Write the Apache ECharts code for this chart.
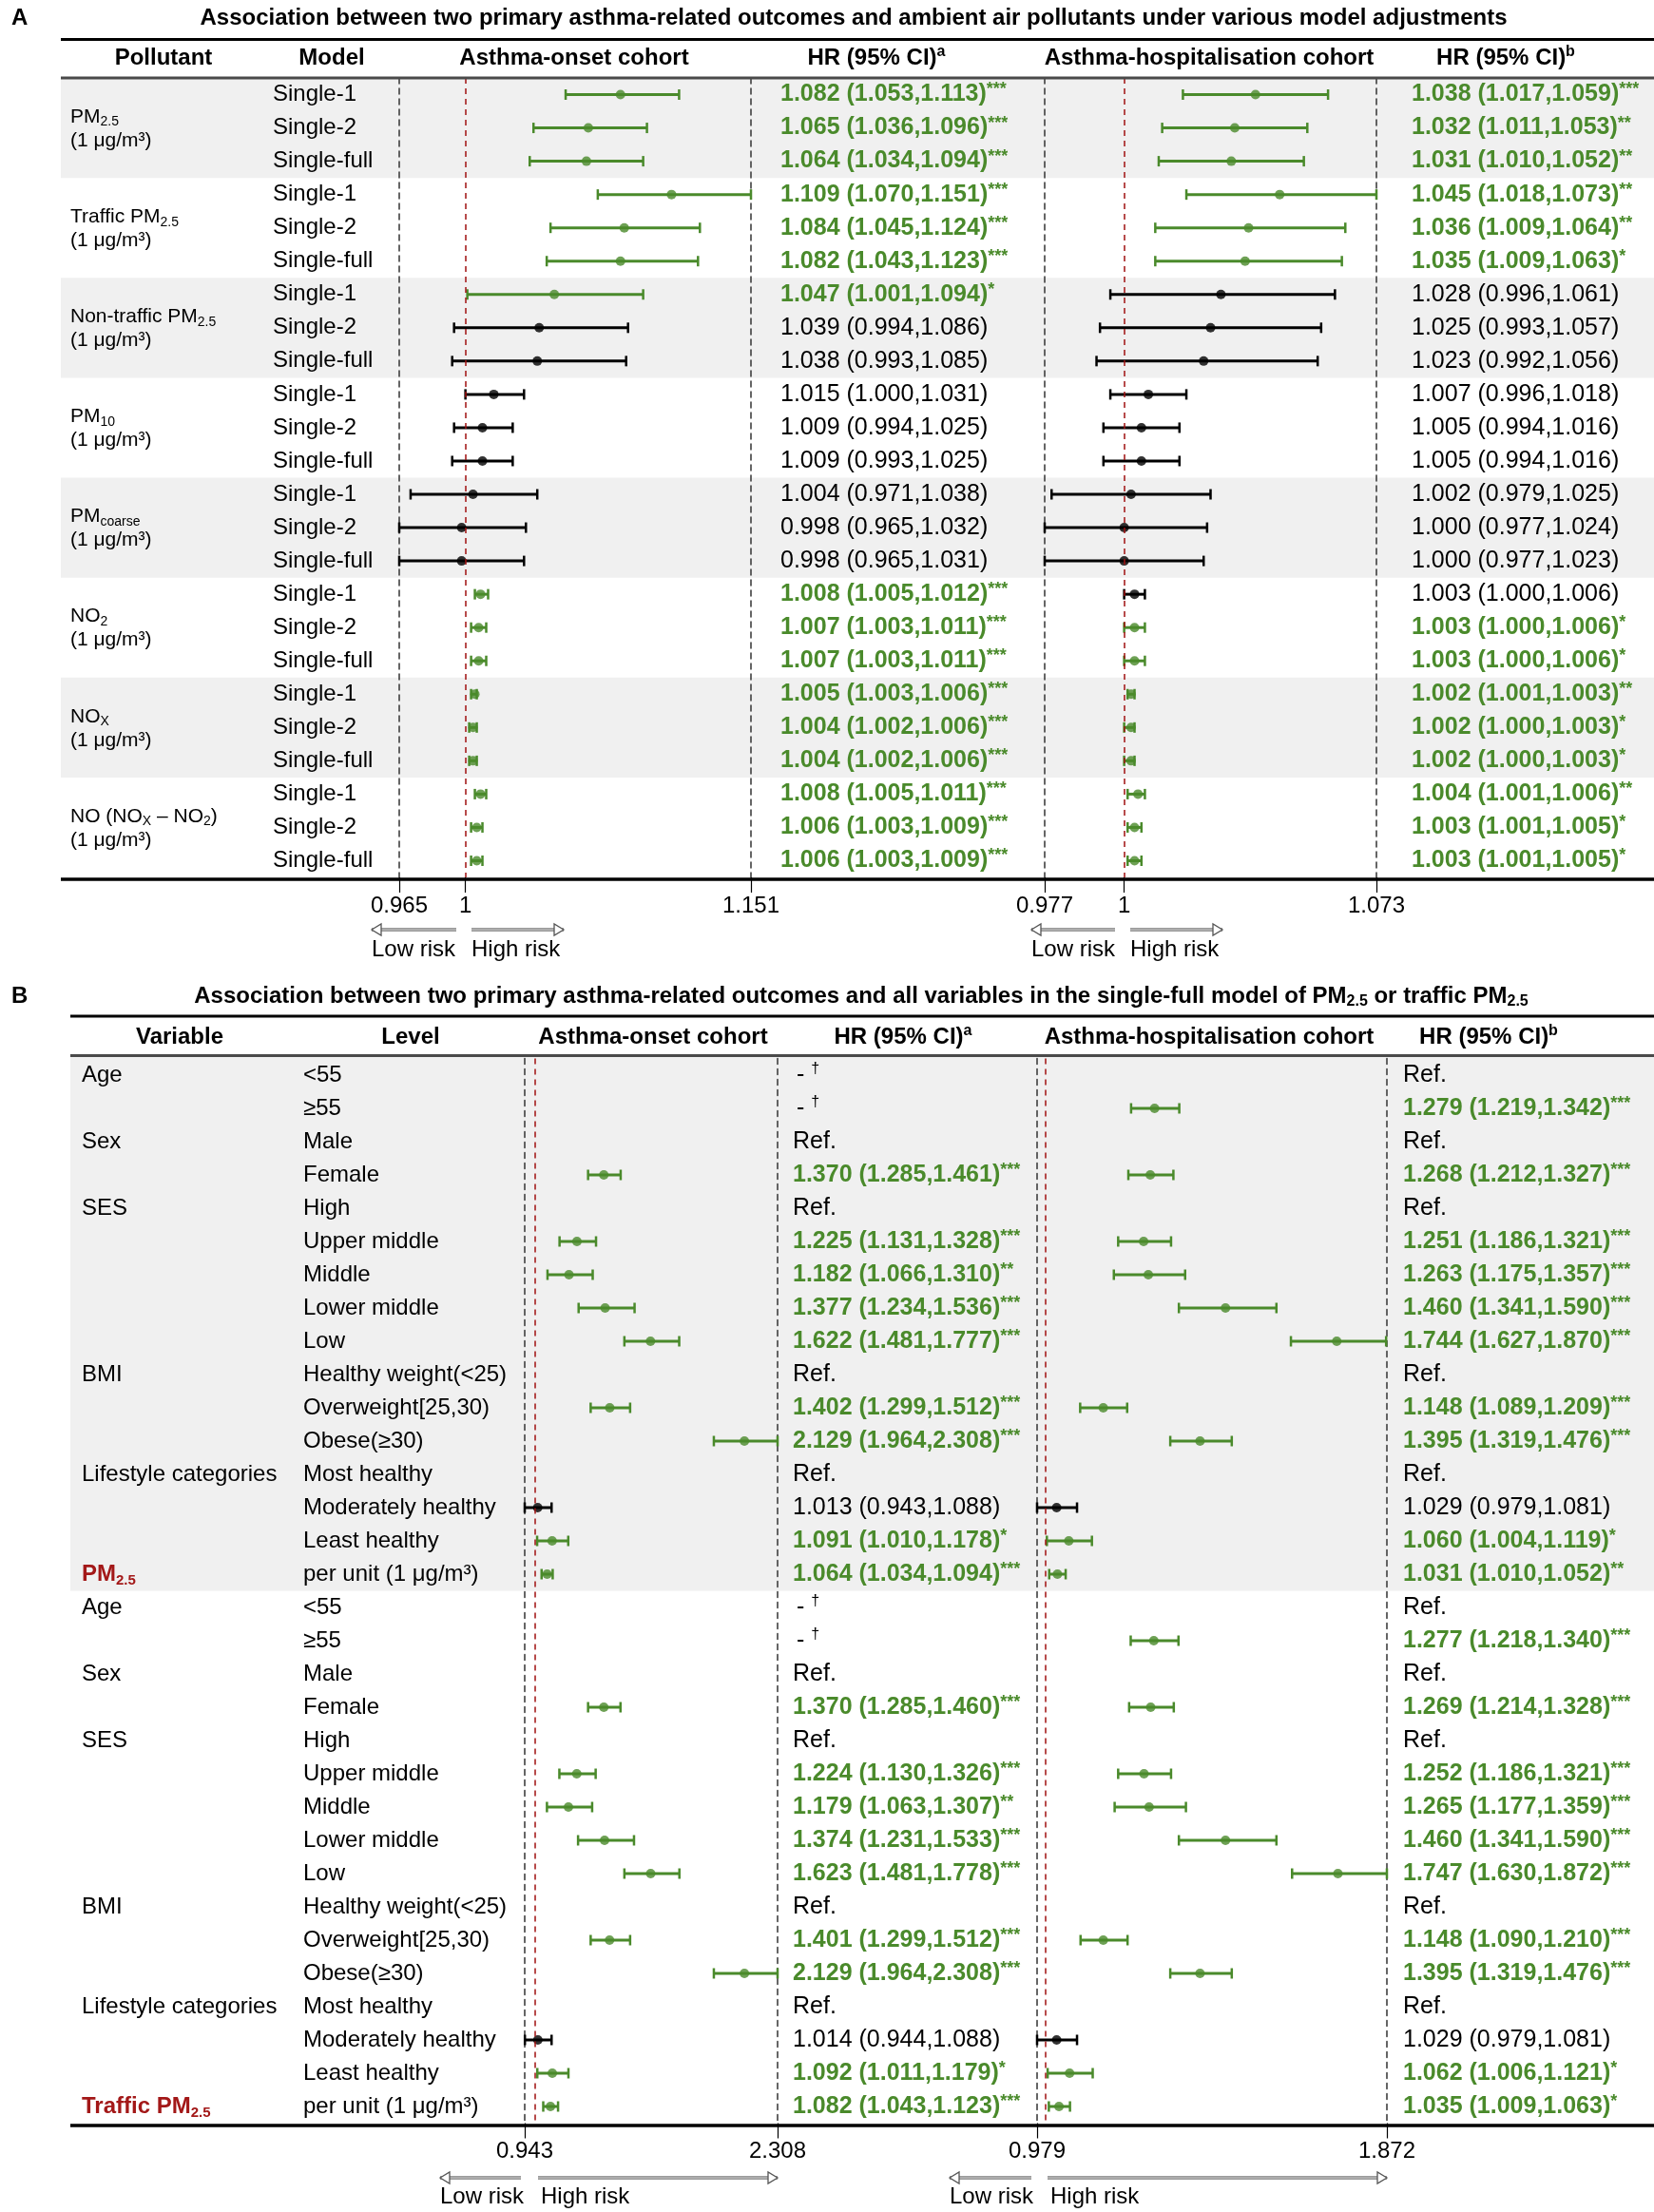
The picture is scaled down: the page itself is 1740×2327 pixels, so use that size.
<!DOCTYPE html>
<html><head><meta charset="utf-8">
<script src="https://cdn.jsdelivr.net/npm/echarts@6/dist/echarts.min.js"></script>
<style>html,body{margin:0;padding:0;background:#fff}#c{width:1740px;height:2327px}</style>
</head><body><div id="c"></div>
<script>
// ================= DATA =================
// Panel A
const pollutants = ['PM2.5', 'Traffic PM2.5', 'Non-traffic PM2.5', 'PM10', 'PMcoarse', 'NO2', 'NOX', 'NO (NOX – NO2)'];
const pollutantUnit = '(1 μg/m³)';
const models = ['Single-1', 'Single-2', 'Single-full'];

const aOnsetHR = [1.082,1.065,1.064, 1.109,1.084,1.082, 1.047,1.039,1.038, 1.015,1.009,1.009, 1.004,0.998,0.998, 1.008,1.007,1.007, 1.005,1.004,1.004, 1.008,1.006,1.006];
const aOnsetLo = [1.053,1.036,1.034, 1.070,1.045,1.043, 1.001,0.994,0.993, 1.000,0.994,0.993, 0.971,0.965,0.965, 1.005,1.003,1.003, 1.003,1.002,1.002, 1.005,1.003,1.003];
const aOnsetHi = [1.113,1.096,1.094, 1.151,1.124,1.123, 1.094,1.086,1.085, 1.031,1.025,1.025, 1.038,1.032,1.031, 1.012,1.011,1.011, 1.006,1.006,1.006, 1.011,1.009,1.009];
const aOnsetSig = ['***','***','***', '***','***','***', '*','','', '','','', '','','', '***','***','***', '***','***','***', '***','***','***'];

const aHospHR = [1.038,1.032,1.031, 1.045,1.036,1.035, 1.028,1.025,1.023, 1.007,1.005,1.005, 1.002,1.000,1.000, 1.003,1.003,1.003, 1.002,1.002,1.002, 1.004,1.003,1.003];
const aHospLo = [1.017,1.011,1.010, 1.018,1.009,1.009, 0.996,0.993,0.992, 0.996,0.994,0.994, 0.979,0.977,0.977, 1.000,1.000,1.000, 1.001,1.000,1.000, 1.001,1.001,1.001];
const aHospHi = [1.059,1.053,1.052, 1.073,1.064,1.063, 1.061,1.057,1.056, 1.018,1.016,1.016, 1.025,1.024,1.023, 1.006,1.006,1.006, 1.003,1.003,1.003, 1.006,1.005,1.005];
const aHospSig = ['***','**','**', '**','**','*', '','','', '','','', '','','', '','*','*', '**','*','*', '**','*','*'];

const aOnsetTicks = [0.965, 1, 1.151];
const aHospTicks = [0.977, 1, 1.073];

// Panel B (two blocks of 16 rows: PM2.5 model, traffic PM2.5 model)
const bVariables = ['Age','','Sex','','SES','','','','','BMI','','','Lifestyle categories','','',''];
const bExposures = ['PM2.5', 'Traffic PM2.5'];
const bLevels = ['<55','≥55','Male','Female','High','Upper middle','Middle','Lower middle','Low',
  'Healthy weight(<25)','Overweight[25,30)','Obese(≥30)','Most healthy','Moderately healthy','Least healthy','per unit (1 μg/m³)'];
const bOnsetBlank = ['-†','-†','Ref.',null,'Ref.',null,null,null,null,'Ref.',null,null,'Ref.',null,null,null];
const bHospBlank  = ['Ref.',null,'Ref.',null,'Ref.',null,null,null,null,'Ref.',null,null,'Ref.',null,null,null];

const b1OnsetHR = [null,null,null,1.370,null,1.225,1.182,1.377,1.622,null,1.402,2.129,null,1.013,1.091,1.064];
const b1OnsetLo = [null,null,null,1.285,null,1.131,1.066,1.234,1.481,null,1.299,1.964,null,0.943,1.010,1.034];
const b1OnsetHi = [null,null,null,1.461,null,1.328,1.310,1.536,1.777,null,1.512,2.308,null,1.088,1.178,1.094];
const b1OnsetSig = ['','','','***','','***','**','***','***','','***','***','','','*','***'];
const b1HospHR = [null,1.279,null,1.268,null,1.251,1.263,1.460,1.744,null,1.148,1.395,null,1.029,1.060,1.031];
const b1HospLo = [null,1.219,null,1.212,null,1.186,1.175,1.341,1.627,null,1.089,1.319,null,0.979,1.004,1.010];
const b1HospHi = [null,1.342,null,1.327,null,1.321,1.357,1.590,1.870,null,1.209,1.476,null,1.081,1.119,1.052];
const b1HospSig = ['','***','','***','','***','***','***','***','','***','***','','','*','**'];

const b2OnsetHR = [null,null,null,1.370,null,1.224,1.179,1.374,1.623,null,1.401,2.129,null,1.014,1.092,1.082];
const b2OnsetLo = [null,null,null,1.285,null,1.130,1.063,1.231,1.481,null,1.299,1.964,null,0.944,1.011,1.043];
const b2OnsetHi = [null,null,null,1.460,null,1.326,1.307,1.533,1.778,null,1.512,2.308,null,1.088,1.179,1.123];
const b2OnsetSig = ['','','','***','','***','**','***','***','','***','***','','','*','***'];
const b2HospHR = [null,1.277,null,1.269,null,1.252,1.265,1.460,1.747,null,1.148,1.395,null,1.029,1.062,1.035];
const b2HospLo = [null,1.218,null,1.214,null,1.186,1.177,1.341,1.630,null,1.090,1.319,null,0.979,1.006,1.009];
const b2HospHi = [null,1.340,null,1.328,null,1.321,1.359,1.590,1.872,null,1.210,1.476,null,1.081,1.121,1.063];
const b2HospSig = ['','***','','***','','***','***','***','***','','***','***','','','*','*'];

const bOnsetTicks = [0.943, 2.308];
const bHospTicks = [0.979, 1.872];

// ================= STYLE / LAYOUT =================
const FONT = '"Liberation Sans", Arial, Helvetica, sans-serif';
const GREEN = '#4a8a2b';
const DARKRED = '#a31818';
const BAND = '#f0f0f0';
const W = 1740;

const LA = { top: 82, height: 841, gridOn: [420, 790], gridHo: [1099, 1448],
  pol: 74, model: 287, hr1: 821, hr2: 1485, bandLeft: 64 };
const LB = { top: 1113.5, height: 1120, gridOn: [552, 818], gridHo: [1091, 1459],
  vari: 86, level: 319, hr1: 834, hr2: 1476, bandLeft: 74 };

const rich = {
  n: { fontSize: 24, fontFamily: FONT, fill: '#000', lineHeight: 28 },
  p: { fontSize: 21, fontFamily: FONT, fill: '#000', lineHeight: 25 },
  ps: { fontSize: 14, fontFamily: FONT, fill: '#000', lineHeight: 14, verticalAlign: 'bottom' },
  g: { fontSize: 25, fontFamily: FONT, fontWeight: 'bold', fill: GREEN, lineHeight: 28 },
  gs: { fontSize: 18, fontFamily: FONT, fontWeight: 'bold', fill: GREEN, lineHeight: 18, verticalAlign: 'top' },
  k: { fontSize: 25, fontFamily: FONT, fill: '#000', lineHeight: 28 },
  ks: { fontSize: 16, fontFamily: FONT, fill: '#000', lineHeight: 16, verticalAlign: 'top' },
  r: { fontSize: 24, fontFamily: FONT, fontWeight: 'bold', fill: DARKRED, lineHeight: 28 },
  rs: { fontSize: 15, fontFamily: FONT, fontWeight: 'bold', fill: DARKRED, lineHeight: 15, verticalAlign: 'bottom' },
  h: { fontSize: 24, fontFamily: FONT, fontWeight: 'bold', fill: '#000', lineHeight: 28 },
  hs: { fontSize: 16, fontFamily: FONT, fontWeight: 'bold', fill: '#000', lineHeight: 16, verticalAlign: 'top' },
  hb: { fontSize: 16, fontFamily: FONT, fontWeight: 'bold', fill: '#000', lineHeight: 16, verticalAlign: 'bottom' }
};

function subRich(s, base, sub) {
  return '{' + base + '|' + s.replace(/(PM|NO)(2\.5|10|coarse|2|X)/g, '$1}{' + sub + '|$2}{' + base + '|') + '}';
}
function hrRich(hr, lo, hi, sig) {
  const t = hr.toFixed(3) + ' (' + lo.toFixed(3) + ',' + hi.toFixed(3) + ')';
  return sig ? '{g|' + t + '}{gs|' + sig + '}' : '{k|' + t + '}';
}
function textEl(x, y, str, align) {
  return { type: 'text', x: x, y: y, style: { text: str, rich: rich, align: align || 'left', verticalAlign: 'middle', textAlign: align || 'left', textVerticalAlign: 'middle' } };
}

// ---------- build panel B 32-row arrays ----------
const bOnsetHR = b1OnsetHR.concat(b2OnsetHR), bOnsetLo = b1OnsetLo.concat(b2OnsetLo), bOnsetHi = b1OnsetHi.concat(b2OnsetHi), bOnsetSig = b1OnsetSig.concat(b2OnsetSig);
const bHospHR = b1HospHR.concat(b2HospHR), bHospLo = b1HospLo.concat(b2HospLo), bHospHi = b1HospHi.concat(b2HospHi), bHospSig = b1HospSig.concat(b2HospSig);

function rowsCat(n) { return Array.from({ length: n }, (_, i) => String(i)); }

function forestSeries(idx, HR, Lo, Hi, Sig) {
  const barData = [], ptData = [];
  HR.forEach((v, i) => {
    if (v == null) return;
    const c = Sig[i] ? GREEN : '#000';
    barData.push({ value: [i, Lo[i], Hi[i]], itemStyle: { color: c } });
    ptData.push({ value: [v, i], itemStyle: { color: c } });
  });
  return [
    {
      type: 'custom', xAxisIndex: idx, yAxisIndex: idx, z: 3, silent: true,
      encode: { x: [1, 2], y: 0 },
      data: barData,
      renderItem: function (params, api) {
        const y = api.value(0);
        const p1 = api.coord([api.value(1), y]);
        const p2 = api.coord([api.value(2), y]);
        const c = api.visual('color');
        const h = 5.5;
        return { type: 'group', children: [
          { type: 'line', shape: { x1: p1[0], y1: p1[1], x2: p2[0], y2: p2[1] }, style: { stroke: c, lineWidth: 3 } },
          { type: 'line', shape: { x1: p1[0], y1: p1[1] - h, x2: p1[0], y2: p1[1] + h }, style: { stroke: c, lineWidth: 2.5 } },
          { type: 'line', shape: { x1: p2[0], y1: p2[1] - h, x2: p2[0], y2: p2[1] + h }, style: { stroke: c, lineWidth: 2.5 } }
        ] };
      },
      markLine: {
        silent: true, symbol: ['none', 'none'], label: { show: false },
        data: [ { xAxis: 1, lineStyle: { color: '#a01010', type: [6, 5], width: 1.5 } } ]
      }
    },
    {
      type: 'scatter', xAxisIndex: idx, yAxisIndex: idx, z: 4, silent: true,
      symbol: 'circle', symbolSize: 10, data: ptData
    }
  ];
}

function xAxisF(gi, min, max, ticks, margin) {
  return {
    type: 'value', gridIndex: gi, min: min, max: max, position: 'bottom',
    axisLine: { show: false }, splitLine: { show: false },
    axisTick: { show: true, customValues: ticks, length: 16, lineStyle: { color: '#000', width: 1.2 } },
    axisLabel: { show: true, customValues: ticks, margin: margin, color: '#000', fontSize: 24, fontFamily: FONT,
      formatter: v => (Math.abs(v - 1) < 1e-9 ? '1' : v.toFixed(3)) }
  };
}
// Forest y-axes: the dashed axis lines mark the lower and upper plotted bounds
function yAxisF(gi, n, pos) {
  return { type: 'category', gridIndex: gi, inverse: true, data: rowsCat(n), position: pos,
    axisLine: { show: true, onZero: false, lineStyle: { color: '#333', type: [6, 5], width: 1.5 } },
    axisTick: { show: false }, axisLabel: { show: false }, splitLine: { show: false } };
}
function yAxisT(gi, n) {
  return { type: 'category', gridIndex: gi, inverse: true, data: rowsCat(n), show: false };
}

// ---------- graphic helpers ----------
function hline(x1, x2, y, w, c) {
  return { type: 'line', shape: { x1: x1, y1: y, x2: x2, y2: y }, style: { stroke: c || '#000', lineWidth: w }, z: 20 };
}
function arrow(x1, x2, y, headLeft) {
  const els = [
    { type: 'line', shape: { x1: x1, y1: y, x2: x2, y2: y }, style: { stroke: '#7a7a7a', lineWidth: 3.5 }, z: 20 },
    { type: 'line', shape: { x1: x1, y1: y, x2: x2, y2: y }, style: { stroke: '#e0e0e0', lineWidth: 1.2 }, z: 21 }
  ];
  const hx = headLeft ? x1 : x2, d = headLeft ? 1 : -1;
  els.push({ type: 'polygon', shape: { points: [[hx, y], [hx + d * 10, y - 6], [hx + d * 10, y + 6]] },
    style: { fill: '#fff', stroke: '#555', lineWidth: 1.3 }, z: 22 });
  return els;
}
function gText(x, y, str, align) {
  return { type: 'text', x: x, y: y, z: 20, style: { text: str, rich: rich, align: align || 'center', verticalAlign: 'middle', textAlign: align || 'center', textVerticalAlign: 'middle' } };
}

const graphics = [];
// Panel A header
graphics.push(gText(12, 19, '{h|A}', 'left'));
graphics.push(gText(898, 19, '{h|Association between two primary asthma-related outcomes and ambient air pollutants under various model adjustments}'));
graphics.push(hline(64, W, 41.5, 3));
graphics.push(gText(172, 61, '{h|Pollutant}'));
graphics.push(gText(349, 61, '{h|Model}'));
graphics.push(gText(604, 61, '{h|Asthma-onset cohort}'));
graphics.push(gText(922, 61, '{h|HR (95% CI)}{hs|a}'));
graphics.push(gText(1272, 61, '{h|Asthma-hospitalisation cohort}'));
graphics.push(gText(1584, 61, '{h|HR (95% CI)}{hs|b}'));
graphics.push(hline(64, W, 82, 3, '#4a4a4a'));
graphics.push(hline(64, W, 925, 3.5));
arrow(391, 480, 978, true).forEach(e => graphics.push(e));
arrow(496, 593, 978, false).forEach(e => graphics.push(e));
arrow(1085, 1173, 978, true).forEach(e => graphics.push(e));
arrow(1189, 1286, 978, false).forEach(e => graphics.push(e));
graphics.push(gText(391, 999, '{n|Low risk}', 'left'));
graphics.push(gText(496, 999, '{n|High risk}', 'left'));
graphics.push(gText(1085, 999, '{n|Low risk}', 'left'));
graphics.push(gText(1189, 999, '{n|High risk}', 'left'));

// Panel B header
graphics.push(gText(12, 1048, '{h|B}', 'left'));
graphics.push(gText(906, 1048, '{h|Association between two primary asthma-related outcomes and all variables in the single-full model of PM}{hb|2.5}{h| or traffic PM}{hb|2.5}'));
graphics.push(hline(74, W, 1069, 3));
graphics.push(gText(189, 1091, '{h|Variable}'));
graphics.push(gText(432, 1091, '{h|Level}'));
graphics.push(gText(687, 1091, '{h|Asthma-onset cohort}'));
graphics.push(gText(950, 1091, '{h|HR (95% CI)}{hs|a}'));
graphics.push(gText(1272, 1091, '{h|Asthma-hospitalisation cohort}'));
graphics.push(gText(1566, 1091, '{h|HR (95% CI)}{hs|b}'));
graphics.push(hline(74, W, 1110.5, 3, '#4a4a4a'));
graphics.push(hline(74, W, 2236, 3.5));
arrow(463, 548, 2291, true).forEach(e => graphics.push(e));
arrow(566, 818, 2291, false).forEach(e => graphics.push(e));
arrow(999, 1085, 2291, true).forEach(e => graphics.push(e));
arrow(1102, 1459, 2291, false).forEach(e => graphics.push(e));
graphics.push(gText(463, 2311, '{n|Low risk}', 'left'));
graphics.push(gText(569, 2311, '{n|High risk}', 'left'));
graphics.push(gText(999, 2311, '{n|Low risk}', 'left'));
graphics.push(gText(1105, 2311, '{n|High risk}', 'left'));

// ================= OPTION =================
const grids = [
  { left: LA.gridOn[0], width: LA.gridOn[1] - LA.gridOn[0], top: LA.top, height: LA.height },
  { left: LA.gridHo[0], width: LA.gridHo[1] - LA.gridHo[0], top: LA.top, height: LA.height },
  { left: LB.gridOn[0], width: LB.gridOn[1] - LB.gridOn[0], top: LB.top, height: LB.height },
  { left: LB.gridHo[0], width: LB.gridHo[1] - LB.gridHo[0], top: LB.top, height: LB.height },
  { left: 0, width: W, top: LA.top, height: LA.height },
  { left: 0, width: W, top: LB.top, height: LB.height }
];

const xAxes = [
  xAxisF(0, aOnsetTicks[0], aOnsetTicks[2], aOnsetTicks, 18),
  xAxisF(1, aHospTicks[0], aHospTicks[2], aHospTicks, 18),
  xAxisF(2, bOnsetTicks[0], bOnsetTicks[1], bOnsetTicks, 18),
  xAxisF(3, bHospTicks[0], bHospTicks[1], bHospTicks, 18),
  { type: 'value', gridIndex: 4, min: 0, max: W, show: false },
  { type: 'value', gridIndex: 5, min: 0, max: W, show: false }
];
const yAxes = [
  yAxisF(0, 24, 'left'), yAxisF(1, 24, 'left'), yAxisF(2, 32, 'left'), yAxisF(3, 32, 'left'),
  yAxisT(4, 24), yAxisT(5, 32),
  yAxisF(0, 24, 'right'), yAxisF(1, 24, 'right'), yAxisF(2, 32, 'right'), yAxisF(3, 32, 'right')
];

function rowH(api) { return api.coord([0, 1])[1] - api.coord([0, 0])[1]; }

const series = [
  // bands panel A
  {
    type: 'custom', xAxisIndex: 4, yAxisIndex: 4, z: -1, silent: true,
    data: [[0, 0], [0, 2], [0, 4], [0, 6]],
    renderItem: function (params, api) {
      const g = api.value(1), h = rowH(api);
      const y0 = api.coord([0, g * 3])[1] - h / 2;
      return { type: 'rect', shape: { x: LA.bandLeft, y: y0, width: W - LA.bandLeft, height: h * 3 }, style: { fill: BAND } };
    }
  },
  // band panel B
  {
    type: 'custom', xAxisIndex: 5, yAxisIndex: 5, z: -1, silent: true,
    data: [[0, 0]],
    renderItem: function (params, api) {
      const h = rowH(api);
      const y0 = api.coord([0, 0])[1] - h / 2 - 2;
      return { type: 'rect', shape: { x: LB.bandLeft, y: y0, width: W - LB.bandLeft, height: h * 16 + 2 }, style: { fill: BAND } };
    }
  },
  // table text panel A
  {
    type: 'custom', xAxisIndex: 4, yAxisIndex: 4, z: 5, silent: true,
    data: rowsCat(24).map((_, i) => [0, i]),
    renderItem: function (params, api) {
      const i = api.value(1);
      const y = api.coord([0, i])[1];
      const ch = [
        textEl(LA.model, y, '{n|' + models[i % 3] + '}'),
        textEl(LA.hr1, y, hrRich(aOnsetHR[i], aOnsetLo[i], aOnsetHi[i], aOnsetSig[i])),
        textEl(LA.hr2, y, hrRich(aHospHR[i], aHospLo[i], aHospHi[i], aHospSig[i]))
      ];
      if (i % 3 === 1) {
        ch.push(textEl(LA.pol, y + 1, subRich(pollutants[(i - 1) / 3], 'p', 'ps') + '\n{p|' + pollutantUnit + '}'));
      }
      return { type: 'group', children: ch };
    }
  },
  // table text panel B
  {
    type: 'custom', xAxisIndex: 5, yAxisIndex: 5, z: 5, silent: true,
    data: rowsCat(32).map((_, i) => [0, i]),
    renderItem: function (params, api) {
      const i = api.value(1), k = i % 16, blk = Math.floor(i / 16);
      const y = api.coord([0, i])[1];
      const ch = [textEl(LB.level, y, '{n|' + bLevels[k] + '}')];
      if (k === 15) ch.push(textEl(LB.vari, y, subRich(bExposures[blk], 'r', 'rs')));
      else if (bVariables[k]) ch.push(textEl(LB.vari, y, '{n|' + bVariables[k] + '}'));
      if (bOnsetHR[i] != null) ch.push(textEl(LB.hr1, y, hrRich(bOnsetHR[i], bOnsetLo[i], bOnsetHi[i], bOnsetSig[i])));
      else if (bOnsetBlank[k] === 'Ref.') ch.push(textEl(LB.hr1, y, '{k|Ref.}'));
      else ch.push(textEl(LB.hr1 + 4, y, '{k|- }{ks|†}'));
      if (bHospHR[i] != null) ch.push(textEl(LB.hr2, y, hrRich(bHospHR[i], bHospLo[i], bHospHi[i], bHospSig[i])));
      else ch.push(textEl(LB.hr2, y, '{k|' + bHospBlank[k] + '}'));
      return { type: 'group', children: ch };
    }
  }
].concat(
  forestSeries(0, aOnsetHR, aOnsetLo, aOnsetHi, aOnsetSig),
  forestSeries(1, aHospHR, aHospLo, aHospHi, aHospSig),
  forestSeries(2, bOnsetHR, bOnsetLo, bOnsetHi, bOnsetSig),
  forestSeries(3, bHospHR, bHospLo, bHospHi, bHospSig)
);

const chart = echarts.init(document.getElementById('c'), null, { renderer: 'canvas', width: 1740, height: 2327 });
chart.setOption({
  animation: false,
  backgroundColor: '#fff',
  textStyle: { fontFamily: FONT },
  grid: grids,
  xAxis: xAxes,
  yAxis: yAxes,
  series: series,
  graphic: { elements: graphics }
});
</script>
</body></html>
